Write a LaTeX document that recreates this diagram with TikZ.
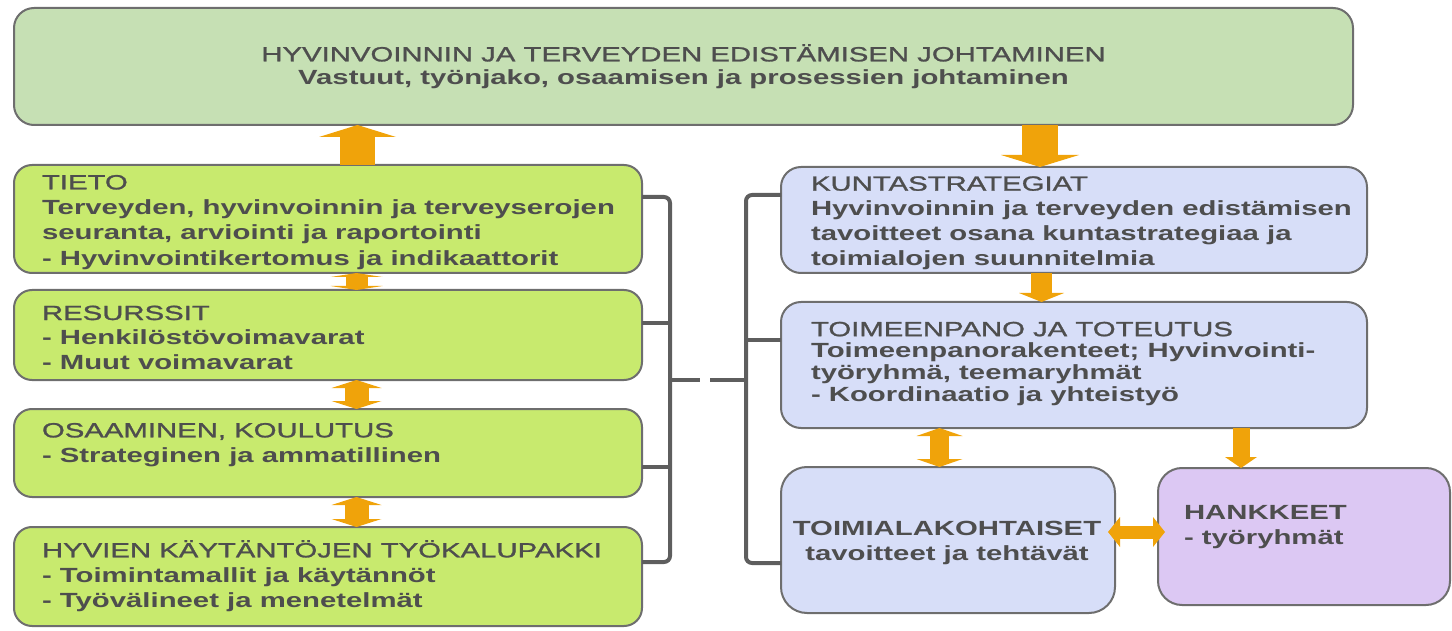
\documentclass[tikz,border=0pt]{standalone}
\usepackage{fontspec}
\setmainfont{Liberation Sans}[FakeStretch=1.43]
\newfontfamily\medfont{Liberation Sans}[FakeStretch=1.43, FakeBold=1.3]
\usetikzlibrary{arrows.meta,calc}
\definecolor{topc}{HTML}{C6E0B4}
\definecolor{leftc}{HTML}{C8EA6E}
\definecolor{rightc}{HTML}{D7DEF8}
\definecolor{hankc}{HTML}{DCC8F3}
\definecolor{bordc}{HTML}{6E6E6E}
\definecolor{txtc}{HTML}{4E4E4E}
\definecolor{brkc}{HTML}{5E5E5E}
\definecolor{arrc}{HTML}{F0A30A}
\newcommand\myfs[1]{\fontsize{20.5pt}{#1pt}\selectfont}
\newcommand\mystrut{\rule{0pt}{20pt}}
\newcommand\hd[1]{{\medfont #1}}
\tikzset{
 box/.style={draw=bordc, line width=2pt, inner sep=0pt, outer sep=0pt, anchor=north west},
 topbox/.style={box, fill=topc, rounded corners=20pt},
 lbox/.style={box, fill=leftc, rounded corners=18pt},
 rbox/.style={box, fill=rightc, rounded corners=20pt},
 hbox/.style={box, fill=hankc, rounded corners=24pt},
 txt/.style={inner sep=0pt, outer sep=0pt, text=txtc, anchor=north west, align=left},
 brk/.style={draw=brkc, line width=4pt, rounded corners=6pt},
 blk/.style={draw=arrc, line width=#1},
}
\begin{document}
\begin{tikzpicture}[x=1pt,y=-1pt]
\useasboundingbox (0,0) rectangle (1452,631);
% boxes
\node[topbox, minimum width=1339pt, minimum height=117pt] (top) at (14,8) {};
\node[lbox, minimum width=628pt, minimum height=108pt] (tieto) at (14,165) {};
\node[lbox, minimum width=628pt, minimum height=90pt] (resurssit) at (14,290) {};
\node[lbox, minimum width=628pt, minimum height=88pt] (osaaminen) at (14,409) {};
\node[lbox, minimum width=628pt, minimum height=99pt] (hyvien) at (14,527) {};
\node[rbox, minimum width=586pt, minimum height=106pt] (kunta) at (781,167) {};
\node[rbox, minimum width=586pt, minimum height=126pt] (toimeenpano) at (781,302) {};
\node[rbox, rounded corners=26pt, minimum width=334pt, minimum height=146pt] (toimiala) at (781,467) {};
\node[hbox, minimum width=292pt, minimum height=137pt] (hankkeet) at (1158,468) {};
% texts
\node[txt, anchor=north, align=center, font=\myfs{23}] (toptxt) at (683.5,41.35)
 {\mystrut\hd{HYVINVOINNIN JA TERVEYDEN EDISTÄMISEN JOHTAMINEN}\\\textbf{Vastuut, työnjako, osaamisen ja prosessien johtaminen}};
\node[txt, font=\myfs{25.3}] (tietotxt) at (42,169.35)
 {\mystrut\hd{TIETO}\\\textbf{Terveyden, hyvinvoinnin ja terveyserojen}\\\textbf{seuranta, arviointi ja raportointi}\\\textbf{- Hyvinvointikertomus ja indikaattorit}};
\node[txt, font=\myfs{24.5}] (resurssittxt) at (42,300)
 {\mystrut\hd{RESURSSIT}\\\textbf{- Henkilöstövoimavarat}\\\textbf{- Muut voimavarat}};
\node[txt, font=\myfs{25}] (osaaminentxt) at (42,417.35)
 {\mystrut\hd{OSAAMINEN, KOULUTUS}\\\textbf{- Strateginen ja ammatillinen}};
\node[txt, font=\myfs{25}] (hyvientxt) at (42,537.35)
 {\mystrut\hd{HYVIEN KÄYTÄNTÖJEN TYÖKALUPAKKI}\\\textbf{- Toimintamallit ja käytännöt}\\\textbf{- Työvälineet ja menetelmät}};
\node[txt, font=\myfs{25}] (kuntatxt) at (811,170.65)
 {\mystrut\hd{KUNTASTRATEGIAT}\\\textbf{Hyvinvoinnin ja terveyden edistämisen}\\\textbf{tavoitteet osana kuntastrategiaa ja}\\\textbf{toimialojen suunnitelmia}};
\node[txt, font=\myfs{21.8}] (toimeenpanotxt) at (811,316.15)
 {\mystrut\hd{TOIMEENPANO JA TOTEUTUS}\\\textbf{Toimeenpanorakenteet; Hyvinvointi-}\\\textbf{työryhmä, teemaryhmät}\\\textbf{- Koordinaatio ja yhteistyö}};
\node[txt, anchor=north, align=center, font=\myfs{25}] (toimialatxt) at (947,515.35)
 {\mystrut\textbf{TOIMIALAKOHTAISET}\\\textbf{tavoitteet ja tehtävät}};
\node[txt, font=\myfs{25}] (hankkeettxt) at (1184,499.35)
 {\mystrut\textbf{HANKKEET}\\\textbf{- työryhmät}};
% x positions of arrows
\coordinate (ax1) at (357.5,0);
\coordinate (ax2) at (1040,0);
\coordinate (ax3) at (356.5,0);
\coordinate (ax4) at (1041.5,0);
\coordinate (ax5) at (939.5,0);
\coordinate (ax6) at (1241,0);
% orange arrows
\draw[blk=35pt, -{Triangle[width=77pt,length=12pt,line width=0pt]}] (tieto.north -| ax1) -- (top.south -| ax1);
\draw[blk=36pt, -{Triangle[width=78pt,length=12pt,line width=0pt]}] (top.south -| ax2) -- (kunta.north -| ax2);
\draw[blk=22pt, {Triangle[width=52pt,length=4pt,line width=0pt]}-{Triangle[width=52pt,length=4pt,line width=0pt]}] (tieto.south -| ax3) -- (resurssit.north -| ax3);
\draw[blk=24pt, {Triangle[width=50pt,length=8pt,line width=0pt]}-{Triangle[width=50pt,length=8pt,line width=0pt]}] (resurssit.south -| ax3) -- (osaaminen.north -| ax3);
\draw[blk=24pt, {Triangle[width=50pt,length=8pt,line width=0pt]}-{Triangle[width=50pt,length=8pt,line width=0pt]}] (osaaminen.south -| ax3) -- (hyvien.north -| ax3);
\draw[blk=21pt, -{Triangle[width=45pt,length=9pt,line width=0pt]}] (kunta.south -| ax4) -- (toimeenpano.north -| ax4);
\draw[blk=19pt, {Triangle[width=46pt,length=8pt,line width=0pt]}-{Triangle[width=46pt,length=8pt,line width=0pt]}] (toimeenpano.south -| ax5) -- (toimiala.north -| ax5);
\draw[blk=17pt, -{Triangle[width=32pt,length=11pt,line width=0pt]}] (toimeenpano.south -| ax6) -- (hankkeet.north -| ax6);
\draw[blk=13pt, {Triangle[width=30pt,length=12pt,line width=0pt]}-{Triangle[width=30pt,length=12pt,line width=0pt]}] ($(toimiala.east)+(-7,-8)$) -- ($(hankkeet.west)+(7,-4.5)$);
% brackets
\draw[brk] ($(tieto.north east)+(0,32)$) -| ($(hyvien.north east)+(28,35)$) -- ($(hyvien.north east)+(0,35)$);
\draw[brk] ($(resurssit.north east)+(0,33)$) -- ++(28,0);
\draw[brk] ($(osaaminen.north east)+(0,58)$) -- ++(28,0);
\coordinate (lm) at (670,380);
\coordinate (lm2) at (700,380);
\coordinate (rm) at (746,380);
\coordinate (rm2) at (710,380);
\draw[brk, rounded corners=0pt] (lm) -- (lm2);
\draw[brk, rounded corners=0pt] (rm2) -- (rm);
\draw[brk] ($(kunta.north west)+(0,28)$) -| ($(toimiala.north west)+(-35,96)$) -- ($(toimiala.north west)+(0,96)$);
\draw[brk] ($(toimeenpano.north west)+(0,38)$) -- ++(-35,0);
\end{tikzpicture}
\end{document}
